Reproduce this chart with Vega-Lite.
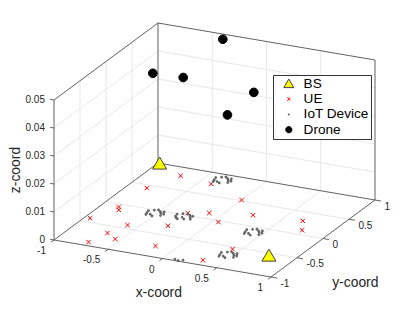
{
"$schema": "https://vega.github.io/schema/vega-lite/v6.json",
"width": 415, "height": 312, "padding": 0, "autosize": {"type": "none"},
"background": "white",
"config": {"view": {"stroke": null},
 "legend": {"orient": "none", "legendX": 273, "legendY": 75, "padding": 2, "strokeColor": "#333333", "fillColor": "#ffffff", "labelFont": "Liberation Sans", "labelFontSize": 13.6, "labelColor": "#000000", "labelOffset": 8, "rowPadding": 0.3, "symbolOffset": 7, "symbolStrokeWidth": 1}},
"datasets": {
 "grid": [
  {"x1":-0.5,"y1":-1,"z1":0,"x2":-0.5,"y2":1,"z2":0},
  {"x1":0,"y1":-1,"z1":0,"x2":0,"y2":1,"z2":0},
  {"x1":0.5,"y1":-1,"z1":0,"x2":0.5,"y2":1,"z2":0},
  {"x1":-1,"y1":-0.5,"z1":0,"x2":1,"y2":-0.5,"z2":0},
  {"x1":-1,"y1":0,"z1":0,"x2":1,"y2":0,"z2":0},
  {"x1":-1,"y1":0.5,"z1":0,"x2":1,"y2":0.5,"z2":0},
  {"x1":-1,"y1":-0.5,"z1":0,"x2":-1,"y2":-0.5,"z2":0.05},
  {"x1":-1,"y1":0,"z1":0,"x2":-1,"y2":0,"z2":0.05},
  {"x1":-1,"y1":0.5,"z1":0,"x2":-1,"y2":0.5,"z2":0.05},
  {"x1":-1,"y1":-1,"z1":0.01,"x2":-1,"y2":1,"z2":0.01},
  {"x1":-1,"y1":-1,"z1":0.02,"x2":-1,"y2":1,"z2":0.02},
  {"x1":-1,"y1":-1,"z1":0.03,"x2":-1,"y2":1,"z2":0.03},
  {"x1":-1,"y1":-1,"z1":0.04,"x2":-1,"y2":1,"z2":0.04},
  {"x1":-0.5,"y1":1,"z1":0,"x2":-0.5,"y2":1,"z2":0.05},
  {"x1":0,"y1":1,"z1":0,"x2":0,"y2":1,"z2":0.05},
  {"x1":0.5,"y1":1,"z1":0,"x2":0.5,"y2":1,"z2":0.05},
  {"x1":-1,"y1":1,"z1":0.01,"x2":1,"y2":1,"z2":0.01},
  {"x1":-1,"y1":1,"z1":0.02,"x2":1,"y2":1,"z2":0.02},
  {"x1":-1,"y1":1,"z1":0.03,"x2":1,"y2":1,"z2":0.03},
  {"x1":-1,"y1":1,"z1":0.04,"x2":1,"y2":1,"z2":0.04}
 ],
 "box": [
  {"x1":-1,"y1":-1,"z1":0,"x2":1,"y2":-1,"z2":0},
  {"x1":1,"y1":-1,"z1":0,"x2":1,"y2":1,"z2":0},
  {"x1":1,"y1":1,"z1":0,"x2":-1,"y2":1,"z2":0},
  {"x1":-1,"y1":1,"z1":0,"x2":-1,"y2":-1,"z2":0},
  {"x1":-1,"y1":-1,"z1":0,"x2":-1,"y2":-1,"z2":0.05},
  {"x1":-1,"y1":-1,"z1":0.05,"x2":-1,"y2":1,"z2":0.05},
  {"x1":-1,"y1":1,"z1":0,"x2":-1,"y2":1,"z2":0.05},
  {"x1":-1,"y1":1,"z1":0.05,"x2":1,"y2":1,"z2":0.05},
  {"x1":1,"y1":1,"z1":0,"x2":1,"y2":1,"z2":0.05},
  {"x1":-1,"y1":-1,"z1":0,"x2":-1,"y2":-1.06,"z2":0},
  {"x1":-0.5,"y1":-1,"z1":0,"x2":-0.5,"y2":-1.06,"z2":0},
  {"x1":0,"y1":-1,"z1":0,"x2":0,"y2":-1.06,"z2":0},
  {"x1":0.5,"y1":-1,"z1":0,"x2":0.5,"y2":-1.06,"z2":0},
  {"x1":1,"y1":-1,"z1":0,"x2":1,"y2":-1.06,"z2":0},
  {"x1":1,"y1":-1,"z1":0,"x2":1.055,"y2":-1,"z2":0},
  {"x1":1,"y1":-0.5,"z1":0,"x2":1.055,"y2":-0.5,"z2":0},
  {"x1":1,"y1":0,"z1":0,"x2":1.055,"y2":0,"z2":0},
  {"x1":1,"y1":0.5,"z1":0,"x2":1.055,"y2":0.5,"z2":0},
  {"x1":1,"y1":1,"z1":0,"x2":1.055,"y2":1,"z2":0},
  {"x1":-1,"y1":-1,"z1":0,"x2":-1.035,"y2":-1,"z2":0},
  {"x1":-1,"y1":-1,"z1":0.01,"x2":-1.035,"y2":-1,"z2":0.01},
  {"x1":-1,"y1":-1,"z1":0.02,"x2":-1.035,"y2":-1,"z2":0.02},
  {"x1":-1,"y1":-1,"z1":0.03,"x2":-1.035,"y2":-1,"z2":0.03},
  {"x1":-1,"y1":-1,"z1":0.04,"x2":-1.035,"y2":-1,"z2":0.04},
  {"x1":-1,"y1":-1,"z1":0.05,"x2":-1.035,"y2":-1,"z2":0.05}
 ],
 "xlab": [
  {"x":-1,"y":-1,"z":0,"label":"-1"},{"x":-0.5,"y":-1,"z":0,"label":"-0.5"},{"x":0,"y":-1,"z":0,"label":"0"},{"x":0.5,"y":-1,"z":0,"label":"0.5"},{"x":1,"y":-1,"z":0,"label":"1"}
 ],
 "ylab": [
  {"x":1,"y":-1,"z":0,"label":"-1"},{"x":1,"y":-0.5,"z":0,"label":"-0.5"},{"x":1,"y":0,"z":0,"label":"0"},{"x":1,"y":0.5,"z":0,"label":"0.5"},{"x":1,"y":1,"z":0,"label":"1"}
 ],
 "zlab": [
  {"x":-1,"y":-1,"z":0,"label":"0"},{"x":-1,"y":-1,"z":0.01,"label":"0.01"},{"x":-1,"y":-1,"z":0.02,"label":"0.02"},{"x":-1,"y":-1,"z":0.03,"label":"0.03"},{"x":-1,"y":-1,"z":0.04,"label":"0.04"},{"x":-1,"y":-1,"z":0.05,"label":"0.05"}
 ],
 "xt": [{"x":0,"y":-1,"z":0,"label":"x-coord"}],
 "yt": [{"x":1,"y":0,"z":0,"label":"y-coord"}],
 "zt": [{"x":-1,"y":-1,"z":0.025,"label":"z-coord"}],
 "pts": [
  {"type":"BS","x":-0.98,"y":0.99,"z":0},
  {"type":"BS","x":0.77,"y":-0.56,"z":0},
  {"type":"UE","x":-0.70,"y":0.81,"z":0},
  {"type":"UE","x":-0.83,"y":0.43,"z":0},
  {"type":"UE","x":-0.39,"y":0.75,"z":0},
  {"type":"UE","x":-0.85,"y":-0.07,"z":0},
  {"type":"UE","x":-0.82,"y":-0.13,"z":0},
  {"type":"UE","x":-0.95,"y":-0.41,"z":0},
  {"type":"UE","x":-0.27,"y":0.05,"z":0},
  {"type":"UE","x":-0.11,"y":0.13,"z":0},
  {"type":"UE","x":0.00,"y":0.52,"z":0},
  {"type":"UE","x":0.24,"y":0.24,"z":0},
  {"type":"UE","x":-0.60,"y":-0.42,"z":0},
  {"type":"UE","x":-0.29,"y":-0.29,"z":0},
  {"type":"UE","x":0.05,"y":-0.03,"z":0},
  {"type":"UE","x":0.67,"y":0.30,"z":0},
  {"type":"UE","x":0.76,"y":0.10,"z":0},
  {"type":"UE","x":-0.67,"y":-0.66,"z":0},
  {"type":"UE","x":-0.55,"y":-0.76,"z":0},
  {"type":"UE","x":-0.72,"y":-0.92,"z":0},
  {"type":"UE","x":-0.18,"y":-0.76,"z":0},
  {"type":"UE","x":0.43,"y":-0.55,"z":0},
  {"type":"UE","x":0.32,"y":-0.89,"z":0},
  {"type":"IoT Device","x":-0.47,"y":-0.05,"z":0},
  {"type":"IoT Device","x":-0.55,"y":-0.01,"z":0},
  {"type":"IoT Device","x":-0.45,"y":-0.10,"z":0},
  {"type":"IoT Device","x":-0.58,"y":-0.09,"z":0},
  {"type":"IoT Device","x":-0.51,"y":-0.14,"z":0},
  {"type":"IoT Device","x":-0.49,"y":-0.02,"z":0},
  {"type":"IoT Device","x":-0.59,"y":-0.04,"z":0},
  {"type":"IoT Device","x":-0.46,"y":-0.01,"z":0},
  {"type":"IoT Device","x":-0.54,"y":-0.11,"z":0},
  {"type":"IoT Device","x":-0.52,"y":0.01,"z":0},
  {"type":"IoT Device","x":-0.57,"y":-0.13,"z":0},
  {"type":"IoT Device","x":-0.44,"y":-0.06,"z":0},
  {"type":"IoT Device","x":-0.21,"y":-0.03,"z":0},
  {"type":"IoT Device","x":-0.30,"y":0.02,"z":0},
  {"type":"IoT Device","x":-0.24,"y":-0.09,"z":0},
  {"type":"IoT Device","x":-0.33,"y":-0.06,"z":0},
  {"type":"IoT Device","x":-0.26,"y":0.03,"z":0},
  {"type":"IoT Device","x":-0.19,"y":-0.07,"z":0},
  {"type":"IoT Device","x":-0.29,"y":-0.11,"z":0},
  {"type":"IoT Device","x":-0.23,"y":0.01,"z":0},
  {"type":"IoT Device","x":-0.34,"y":-0.01,"z":0},
  {"type":"IoT Device","x":-0.27,"y":-0.06,"z":0},
  {"type":"IoT Device","x":-0.20,"y":0.00,"z":0},
  {"type":"IoT Device","x":-0.31,"y":-0.09,"z":0},
  {"type":"IoT Device","x":-0.30,"y":0.89,"z":0},
  {"type":"IoT Device","x":-0.38,"y":0.93,"z":0},
  {"type":"IoT Device","x":-0.28,"y":0.84,"z":0},
  {"type":"IoT Device","x":-0.41,"y":0.85,"z":0},
  {"type":"IoT Device","x":-0.34,"y":0.80,"z":0},
  {"type":"IoT Device","x":-0.32,"y":0.92,"z":0},
  {"type":"IoT Device","x":-0.42,"y":0.90,"z":0},
  {"type":"IoT Device","x":-0.29,"y":0.93,"z":0},
  {"type":"IoT Device","x":-0.37,"y":0.82,"z":0},
  {"type":"IoT Device","x":-0.35,"y":0.95,"z":0},
  {"type":"IoT Device","x":-0.40,"y":0.81,"z":0},
  {"type":"IoT Device","x":-0.27,"y":0.88,"z":0},
  {"type":"IoT Device","x":0.46,"y":-0.10,"z":0},
  {"type":"IoT Device","x":0.38,"y":-0.06,"z":0},
  {"type":"IoT Device","x":0.48,"y":-0.15,"z":0},
  {"type":"IoT Device","x":0.35,"y":-0.14,"z":0},
  {"type":"IoT Device","x":0.42,"y":-0.19,"z":0},
  {"type":"IoT Device","x":0.44,"y":-0.07,"z":0},
  {"type":"IoT Device","x":0.34,"y":-0.09,"z":0},
  {"type":"IoT Device","x":0.47,"y":-0.06,"z":0},
  {"type":"IoT Device","x":0.39,"y":-0.16,"z":0},
  {"type":"IoT Device","x":0.41,"y":-0.04,"z":0},
  {"type":"IoT Device","x":0.36,"y":-0.18,"z":0},
  {"type":"IoT Device","x":0.49,"y":-0.11,"z":0},
  {"type":"IoT Device","x":0.50,"y":-0.67,"z":0},
  {"type":"IoT Device","x":0.42,"y":-0.63,"z":0},
  {"type":"IoT Device","x":0.52,"y":-0.72,"z":0},
  {"type":"IoT Device","x":0.39,"y":-0.71,"z":0},
  {"type":"IoT Device","x":0.46,"y":-0.76,"z":0},
  {"type":"IoT Device","x":0.48,"y":-0.64,"z":0},
  {"type":"IoT Device","x":0.38,"y":-0.66,"z":0},
  {"type":"IoT Device","x":0.51,"y":-0.63,"z":0},
  {"type":"IoT Device","x":0.43,"y":-0.73,"z":0},
  {"type":"IoT Device","x":0.45,"y":-0.61,"z":0},
  {"type":"IoT Device","x":0.40,"y":-0.75,"z":0},
  {"type":"IoT Device","x":0.53,"y":-0.68,"z":0},
  {"type":"IoT Device","x":0.10,"y":-0.97,"z":0},
  {"type":"IoT Device","x":0.14,"y":-0.99,"z":0},
  {"type":"IoT Device","x":0.17,"y":-0.96,"z":0},
  {"type":"Drone","x":-0.53,"y":-0.08,"z":0.05},
  {"type":"Drone","x":-0.26,"y":-0.06,"z":0.05},
  {"type":"Drone","x":-0.35,"y":0.89,"z":0.05},
  {"type":"Drone","x":0.42,"y":-0.12,"z":0.05},
  {"type":"Drone","x":0.45,"y":-0.69,"z":0.05}
 ]
},
"layer": [
 {"data": {"name": "grid"},
  "transform": [
   {"calculate": "108.5*datum.x1+52*datum.y1", "as": "sx"},
   {"calculate": "-18.5*datum.x1+38.5*datum.y1+2800*datum.z1", "as": "sy"},
   {"calculate": "108.5*datum.x2+52*datum.y2", "as": "sx2"},
   {"calculate": "-18.5*datum.x2+38.5*datum.y2+2800*datum.z2", "as": "sy2"}],
  "mark": {"type": "rule", "color": "#e2e2e2", "strokeWidth": 0.8},
  "encoding": {
   "x": {"field": "sx", "type": "quantitative", "scale": {"domain": [-214.5, 200.5], "nice": false, "zero": false}, "axis": null},
   "y": {"field": "sy", "type": "quantitative", "scale": {"domain": [-92, 220], "nice": false, "zero": false}, "axis": null},
   "x2": {"field": "sx2"}, "y2": {"field": "sy2"}}},
 {"data": {"name": "box"},
  "transform": [
   {"calculate": "108.5*datum.x1+52*datum.y1", "as": "sx"},
   {"calculate": "-18.5*datum.x1+38.5*datum.y1+2800*datum.z1", "as": "sy"},
   {"calculate": "108.5*datum.x2+52*datum.y2", "as": "sx2"},
   {"calculate": "-18.5*datum.x2+38.5*datum.y2+2800*datum.z2", "as": "sy2"}],
  "mark": {"type": "rule", "color": "#505050", "strokeWidth": 0.9},
  "encoding": {
   "x": {"field": "sx", "type": "quantitative", "scale": {"domain": [-214.5, 200.5], "nice": false, "zero": false}, "axis": null},
   "y": {"field": "sy", "type": "quantitative", "scale": {"domain": [-92, 220], "nice": false, "zero": false}, "axis": null},
   "x2": {"field": "sx2"}, "y2": {"field": "sy2"}}},
 {"data": {"name": "xlab"},
  "transform": [
   {"calculate": "108.5*datum.x+52*datum.y", "as": "sx"},
   {"calculate": "-18.5*datum.x+38.5*datum.y+2800*datum.z", "as": "sy"}],
  "mark": {"type": "text", "align": "right", "baseline": "middle", "dx": -8, "dy": 11, "font": "Liberation Sans", "fontSize": 10, "color": "#262626"},
  "encoding": {
   "x": {"field": "sx", "type": "quantitative", "scale": {"domain": [-214.5, 200.5], "nice": false, "zero": false}, "axis": null},
   "y": {"field": "sy", "type": "quantitative", "scale": {"domain": [-92, 220], "nice": false, "zero": false}, "axis": null},
   "text": {"field": "label"}}},
 {"data": {"name": "ylab"},
  "transform": [
   {"calculate": "108.5*datum.x+52*datum.y", "as": "sx"},
   {"calculate": "-18.5*datum.x+38.5*datum.y+2800*datum.z", "as": "sy"}],
  "mark": {"type": "text", "align": "left", "baseline": "middle", "dx": 9.5, "dy": 6.5, "font": "Liberation Sans", "fontSize": 10, "color": "#262626"},
  "encoding": {
   "x": {"field": "sx", "type": "quantitative", "scale": {"domain": [-214.5, 200.5], "nice": false, "zero": false}, "axis": null},
   "y": {"field": "sy", "type": "quantitative", "scale": {"domain": [-92, 220], "nice": false, "zero": false}, "axis": null},
   "text": {"field": "label"}}},
 {"data": {"name": "zlab"},
  "transform": [
   {"calculate": "108.5*datum.x+52*datum.y", "as": "sx"},
   {"calculate": "-18.5*datum.x+38.5*datum.y+2800*datum.z", "as": "sy"}],
  "mark": {"type": "text", "align": "right", "baseline": "middle", "dx": -9, "dy": 0, "font": "Liberation Sans", "fontSize": 10, "color": "#262626"},
  "encoding": {
   "x": {"field": "sx", "type": "quantitative", "scale": {"domain": [-214.5, 200.5], "nice": false, "zero": false}, "axis": null},
   "y": {"field": "sy", "type": "quantitative", "scale": {"domain": [-92, 220], "nice": false, "zero": false}, "axis": null},
   "text": {"field": "label"}}},
 {"data": {"name": "xt"},
  "transform": [
   {"calculate": "108.5*datum.x+52*datum.y", "as": "sx"},
   {"calculate": "-18.5*datum.x+38.5*datum.y+2800*datum.z", "as": "sy"}],
  "mark": {"type": "text", "align": "center", "baseline": "alphabetic", "dx": -3.7, "dy": 38.5, "font": "Liberation Sans", "fontSize": 13.9, "color": "#262626"},
  "encoding": {
   "x": {"field": "sx", "type": "quantitative", "scale": {"domain": [-214.5, 200.5], "nice": false, "zero": false}, "axis": null},
   "y": {"field": "sy", "type": "quantitative", "scale": {"domain": [-92, 220], "nice": false, "zero": false}, "axis": null},
   "text": {"field": "label"}}},
 {"data": {"name": "yt"},
  "transform": [
   {"calculate": "108.5*datum.x+52*datum.y", "as": "sx"},
   {"calculate": "-18.5*datum.x+38.5*datum.y+2800*datum.z", "as": "sy"}],
  "mark": {"type": "text", "align": "center", "baseline": "alphabetic", "dx": 32.3, "dy": 48.2, "font": "Liberation Sans", "fontSize": 13.9, "color": "#262626"},
  "encoding": {
   "x": {"field": "sx", "type": "quantitative", "scale": {"domain": [-214.5, 200.5], "nice": false, "zero": false}, "axis": null},
   "y": {"field": "sy", "type": "quantitative", "scale": {"domain": [-92, 220], "nice": false, "zero": false}, "axis": null},
   "text": {"field": "label"}}},
 {"data": {"name": "zt"},
  "transform": [
   {"calculate": "108.5*datum.x+52*datum.y", "as": "sx"},
   {"calculate": "-18.5*datum.x+38.5*datum.y+2800*datum.z", "as": "sy"}],
  "mark": {"type": "text", "align": "center", "baseline": "alphabetic", "angle": 270, "dx": 0, "dy": -34, "font": "Liberation Sans", "fontSize": 13.9, "color": "#262626"},
  "encoding": {
   "x": {"field": "sx", "type": "quantitative", "scale": {"domain": [-214.5, 200.5], "nice": false, "zero": false}, "axis": null},
   "y": {"field": "sy", "type": "quantitative", "scale": {"domain": [-92, 220], "nice": false, "zero": false}, "axis": null},
   "text": {"field": "label"}}},
 {"data": {"name": "pts"},
  "transform": [
   {"calculate": "108.5*datum.x+52*datum.y", "as": "sx"},
   {"calculate": "-18.5*datum.x+38.5*datum.y+2800*datum.z", "as": "sy"}],
  "mark": {"type": "point", "filled": true, "size": 196, "strokeWidth": 1, "opacity": 1},
  "encoding": {
   "x": {"field": "sx", "type": "quantitative", "scale": {"domain": [-214.5, 200.5], "nice": false, "zero": false}, "axis": null},
   "y": {"field": "sy", "type": "quantitative", "scale": {"domain": [-92, 220], "nice": false, "zero": false}, "axis": null},
   "shape": {"field": "type", "type": "nominal", "scale": {"domain": ["BS", "UE", "IoT Device", "Drone"], "range": ["M0,-0.95L1,0.76L-1,0.76Z", "M-0.32,-0.32L0.32,0.32M-0.32,0.32L0.32,-0.32", "M-0.2,0A0.2,0.2 0 1,0 0.2,0A0.2,0.2 0 1,0 -0.2,0Z", "M-0.62,0A0.62,0.62 0 1,0 0.62,0A0.62,0.62 0 1,0 -0.62,0Z"]}, "legend": {"title": null}},
   "fill": {"field": "type", "type": "nominal", "scale": {"domain": ["BS", "UE", "IoT Device", "Drone"], "range": ["#ffff00", "transparent", "#666666", "#000000"]}, "legend": {"title": null}},
   "stroke": {"field": "type", "type": "nominal", "scale": {"domain": ["BS", "UE", "IoT Device", "Drone"], "range": ["#404040", "#ff0000", "transparent", "#000000"]}, "legend": {"title": null}}}}
]
}
